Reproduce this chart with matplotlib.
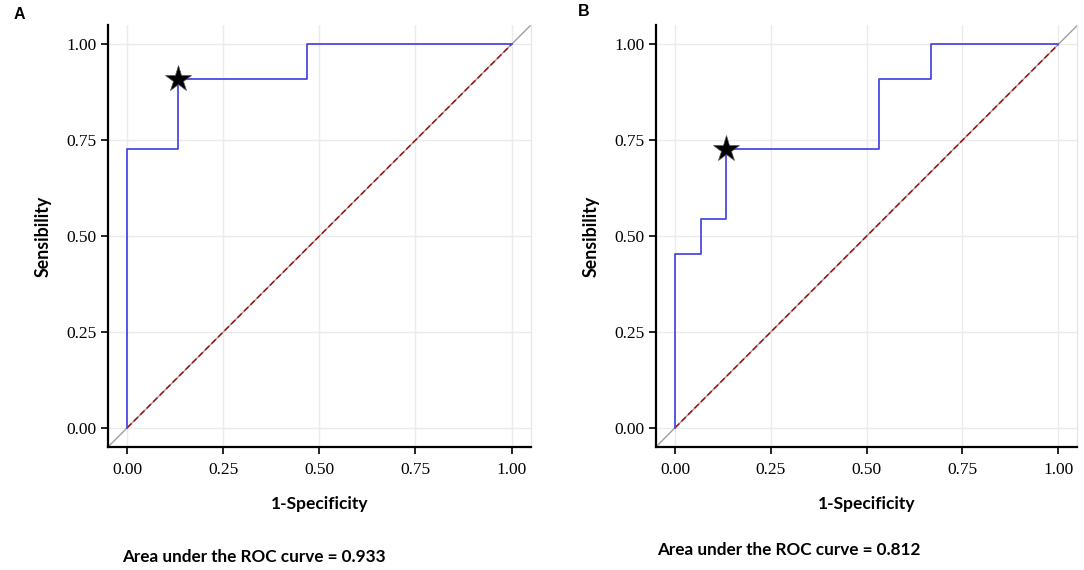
import matplotlib
matplotlib.use("Agg")
import matplotlib.pyplot as plt

# ROC points (1-specificity, sensitivity), 11 positives / 15 negatives
fpr_a = [0.0, 0.0, 2 / 15, 7 / 15, 1.0]
tpr_a = [0.0, 8 / 11, 10 / 11, 1.0, 1.0]
cut_a = (2 / 15, 10 / 11)
auc_a = 0.933

fpr_b = [0.0, 0.0, 1 / 15, 2 / 15, 8 / 15, 10 / 15, 1.0]
tpr_b = [0.0, 5 / 11, 6 / 11, 8 / 11, 10 / 11, 1.0, 1.0]
cut_b = (2 / 15, 8 / 11)
auc_b = 0.812

ticks = [0.0, 0.25, 0.5, 0.75, 1.0]
tick_labels = ["0.00", "0.25", "0.50", "0.75", "1.00"]

SANS = ["Lato", "DejaVu Sans"]
SERIF = ["Liberation Serif", "DejaVu Serif"]


def roc_panel(ax, fpr, tpr, cut):
    lo, hi = -0.05, 1.05
    ax.set_xlim(lo, hi)
    ax.set_ylim(lo, hi)
    ax.plot([lo, hi], [lo, hi], color="#a0a0a0", lw=1.0, zorder=2)
    ax.plot([0, 1], [0, 1], color="#a01010", lw=1.1, ls=(0, (4, 2)), zorder=3)
    ax.plot(fpr, tpr, drawstyle="steps-post", color="#4a4ae6", lw=1.3, zorder=4)
    ax.plot(*cut, marker="*", ms=20, color="black", mec="#555555", mew=0.5, zorder=5)

    ax.set_xticks(ticks)
    ax.set_yticks(ticks)
    ax.set_xticklabels(tick_labels, fontfamily=SERIF, fontsize=12.5)
    ax.set_yticklabels(tick_labels, fontfamily=SERIF, fontsize=12.5)
    ax.grid(True, color="#ebebeb", lw=1.0)
    ax.set_axisbelow(True)
    ax.tick_params(direction="out", length=5, width=1.2, color="black")
    ax.tick_params(axis="x", pad=6)
    ax.tick_params(axis="y", pad=3)

    for s in ("left", "bottom"):
        ax.spines[s].set_linewidth(1.6)
    ax.spines["top"].set_visible(False)
    ax.spines["right"].set_color("#e6e6e6")
    ax.spines["right"].set_linewidth(1.0)

    ax.set_xlabel("1-Specificity", fontfamily=SANS, fontweight="bold", fontsize=12.5, labelpad=13)
    ax.set_ylabel("Sensibility", fontfamily=SANS, fontweight="bold", fontsize=12.8, labelpad=11)


fig = plt.figure(figsize=(10.84, 5.70), dpi=100)
ax_a = fig.add_axes([0.0996, 0.2158, 0.390, 0.740])
ax_b = fig.add_axes([0.605, 0.2158, 0.389, 0.740])

roc_panel(ax_a, fpr_a, tpr_a, cut_a)
roc_panel(ax_b, fpr_b, tpr_b, cut_b)

fig.text(0.0129, 0.975, "A", fontfamily=["Liberation Sans", "DejaVu Sans"], fontweight="bold",
         fontsize=11.5, va="center", ha="left")
fig.text(0.533, 0.979, "B", fontfamily=["Liberation Sans", "DejaVu Sans"], fontweight="bold",
         fontsize=11.5, va="center", ha="left")

fig.text(0.1125, 0.023, f"Area under the ROC curve = {auc_a:.3f}", fontfamily=SANS,
         fontweight="bold", fontsize=12.3, va="center", ha="left")
fig.text(0.606, 0.035, f"Area under the ROC curve = {auc_b:.3f}", fontfamily=SANS,
         fontweight="bold", fontsize=12.3, va="center", ha="left")

fig.savefig("out.png", dpi=100)
